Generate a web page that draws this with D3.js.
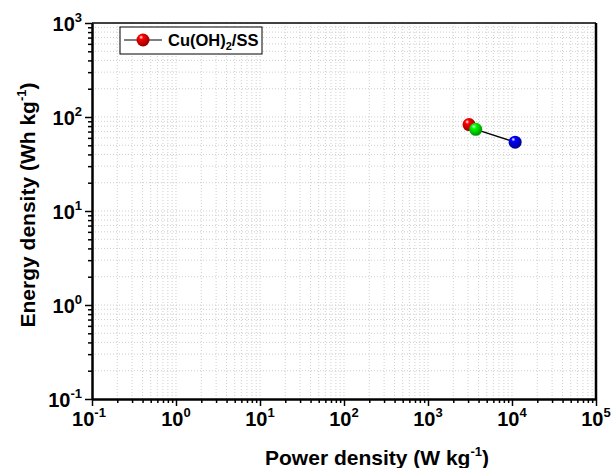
<!DOCTYPE html>
<html>
<head>
<meta charset="utf-8">
<script src="https://cdn.jsdelivr.net/npm/d3@7"></script>
<style>
  body { margin: 0; background: #fff; }
  text { font-family: "Liberation Sans", Arial, sans-serif; font-weight: bold; }
</style>
</head>
<body>
<svg id="chart" width="615" height="468"></svg>
<script>
// data
const seriesName = "Cu(OH)2/SS";
const powerDensity = [3080, 3700, 10900];   // W kg-1
const energyDensity = [83, 74, 54];         // Wh kg-1
const pointColors = ["#ff0000", "#00ff00", "#0000ff"];
const xExponents = [-1, 0, 1, 2, 3, 4, 5];
const yExponents = [-1, 0, 1, 2, 3];

let margin = { top: 23, right: 19, bottom: 69, left: 92 },
  width = 615 - margin.left - margin.right,
  height = 468 - margin.top - margin.bottom;

let svg = d3.select("#chart");
let defs = svg.append("defs");

// shiny ball gradients
pointColors.forEach(function (c, i) {
  let g = defs.append("radialGradient")
    .attr("id", "ball" + i)
    .attr("cx", "40%").attr("cy", "35%").attr("r", "65%")
    .attr("fx", "35%").attr("fy", "28%");
  g.append("stop").attr("offset", "0%").attr("stop-color", "#ffffff");
  g.append("stop").attr("offset", "25%").attr("stop-color", c);
  g.append("stop").attr("offset", "100%").attr("stop-color", d3.color(c).darker(1.6));
});

let x = d3.scaleLog().domain([1e-1, 1e5]).range([0, width]);
let y = d3.scaleLog().domain([1e-1, 1e3]).range([height, 0]);

// major + minor tick values
function minors(exps) {
  let out = [];
  for (let i = 0; i < exps.length - 1; i++) {
    for (let k = 2; k <= 9; k++) out.push(k * Math.pow(10, exps[i]));
  }
  return out;
}
let xMajor = xExponents.map((e) => Math.pow(10, e));
let yMajor = yExponents.map((e) => Math.pow(10, e));
let xMinor = minors(xExponents);
let yMinor = minors(yExponents);

let plot = svg.append("g").attr("transform", `translate(${margin.left},${margin.top})`);

// dotted grid
plot.append("g").selectAll("line")
  .data(xMinor.concat(xMajor.slice(1, -1)))
  .enter().append("line")
  .attr("x1", (d) => x(d)).attr("x2", (d) => x(d))
  .attr("y1", 0).attr("y2", height)
  .style("stroke", "#cfcfcf").style("stroke-width", 1)
  .style("stroke-dasharray", "1,2");

plot.append("g").selectAll("line")
  .data(yMinor.concat(yMajor.slice(1, -1)))
  .enter().append("line")
  .attr("x1", 0).attr("x2", width)
  .attr("y1", (d) => y(d)).attr("y2", (d) => y(d))
  .style("stroke", "#cfcfcf").style("stroke-width", 1)
  .style("stroke-dasharray", "1,2");

// frame top/right
plot.append("line").attr("x1", 0).attr("x2", width).attr("y1", 0).attr("y2", 0)
  .style("stroke", "#000").style("stroke-width", 1.5);
plot.append("line").attr("x1", width).attr("x2", width).attr("y1", 0).attr("y2", height)
  .style("stroke", "#000").style("stroke-width", 2.5);

// axes
function styleAxis(g) {
  g.select(".domain").style("stroke-width", 2);
  g.selectAll(".tick line").style("stroke-width", 1.5);
  g.selectAll(".tick text").remove();
}
plot.append("g").attr("transform", `translate(0,${height})`)
  .call(d3.axisBottom(x).tickValues(xMinor).tickSize(4).tickSizeOuter(0)).call(styleAxis);
plot.append("g").attr("transform", `translate(0,${height})`)
  .call(d3.axisBottom(x).tickValues(xMajor).tickSize(7).tickSizeOuter(0)).call(styleAxis);
plot.append("g")
  .call(d3.axisLeft(y).tickValues(yMinor).tickSize(4).tickSizeOuter(0)).call(styleAxis);
plot.append("g")
  .call(d3.axisLeft(y).tickValues(yMajor).tickSize(7).tickSizeOuter(0)).call(styleAxis);

// tick labels 10^n
let xl = plot.append("g").selectAll("text").data(xExponents).enter().append("text")
  .attr("x", (d) => x(Math.pow(10, d)) + (d < 0 ? -3 : 0))
  .attr("y", height + 27)
  .attr("text-anchor", "middle")
  .style("font-size", "20px");
xl.append("tspan").text("10");
xl.append("tspan").attr("dy", -9).style("font-size", "13px").text((d) => String(d));

let yl = plot.append("g").selectAll("text").data(yExponents).enter().append("text")
  .attr("x", -10)
  .attr("y", (d) => y(Math.pow(10, d)) + 8)
  .attr("text-anchor", "end")
  .style("font-size", "20px");
yl.append("tspan").text("10");
yl.append("tspan").attr("dy", -9).style("font-size", "13px").text((d) => String(d));

// axis titles
let xt = svg.append("text")
  .attr("x", margin.left + width / 2 + 33).attr("y", 465)
  .attr("text-anchor", "middle").style("font-size", "21px");
xt.append("tspan").text("Power density (W kg");
xt.append("tspan").attr("dy", -9).style("font-size", "13px").text("-1");
xt.append("tspan").attr("dy", 9).text(")");

let yt = svg.append("text")
  .attr("transform", "translate(35,205) rotate(-90)")
  .attr("text-anchor", "middle").style("font-size", "21px");
yt.append("tspan").text("Energy density (Wh kg");
yt.append("tspan").attr("dy", -9).style("font-size", "13px").text("-1");
yt.append("tspan").attr("dy", 9).text(")");

// data
let points = powerDensity.map((p, i) => ({ p: p, e: energyDensity[i], i: i }));
let line = d3.line().x((d) => x(d.p)).y((d) => y(d.e));
plot.append("path").datum(points).attr("d", line)
  .style("fill", "none").style("stroke", "#000").style("stroke-width", 1.3);
plot.selectAll(".pt").data(points).enter().append("circle")
  .attr("class", "pt")
  .attr("cx", (d) => x(d.p)).attr("cy", (d) => y(d.e)).attr("r", 6.5)
  .style("fill", (d) => `url(#ball${d.i})`);

// legend
let lg = svg.append("g").attr("transform", "translate(120,27)");
lg.append("rect").attr("width", 142).attr("height", 27)
  .style("fill", "#fff").style("stroke", "#000").style("stroke-width", 1);
lg.append("line").attr("x1", 4).attr("x2", 42).attr("y1", 13).attr("y2", 13)
  .style("stroke", "#555").style("stroke-width", 1.5);
lg.append("circle").attr("cx", 23).attr("cy", 13).attr("r", 6.5).style("fill", "url(#ball0)");
let lt = lg.append("text").attr("x", 48).attr("y", 19).style("font-size", "16.5px");
lt.append("tspan").text("Cu(OH)");
lt.append("tspan").attr("dy", 4).style("font-size", "11px").text("2");
lt.append("tspan").attr("dy", -4).text("/SS");
</script>
</body>
</html>
